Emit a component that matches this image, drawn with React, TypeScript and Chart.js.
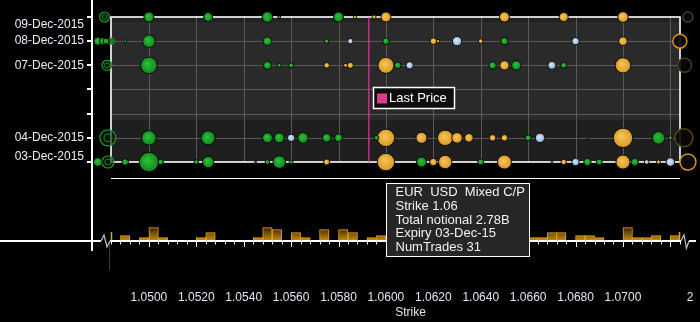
import React, { useEffect, useRef } from 'react';
import { Chart, registerables } from 'chart.js';

Chart.register(...registerables);

const FONT = "'Liberation Sans', Arial, sans-serif";

// ---- y axis: expiry dates (day of December 2015) ----
const dayValues = [3, 4, 5, 6, 7, 8, 9];
const dayLabels = ['03-Dec-2015', '04-Dec-2015', '', '', '07-Dec-2015', '08-Dec-2015', '09-Dec-2015'];

// ---- x axis: strikes ----
const strikeTicks = [1.05, 1.052, 1.054, 1.056, 1.058, 1.06, 1.062, 1.064, 1.066, 1.068, 1.07, 1.07283];
const strikeTickLabels = ['1.0500', '1.0520', '1.0540', '1.0560', '1.0580', '1.0600', '1.0620', '1.0640', '1.0660', '1.0680', '1.0700', '2'];
const gridStrikes = [1.05, 1.052, 1.054, 1.056, 1.058, 1.06, 1.062, 1.064, 1.066, 1.068, 1.07, 1.072];
const strikeWindow = [1.0484, 1.0724];
const lastPrice = 1.05928;

// ---- bubbles: [strike, expiry day, size] ----
const greenTrades = [
  [1.05, 9, 5], [1.0525, 9, 4.5], [1.055, 9, 5.3], [1.0555, 9, 1.5], [1.058, 9, 5],
  [1.04785, 8, 4], [1.04806, 8, 3.5], [1.04819, 8, 3], [1.049, 8, 1.5], [1.05, 8, 6.3], [1.055, 8, 4.3], [1.0575, 8, 2.3], [1.06, 8, 3.3], [1.065, 8, 3.7],
  [1.05, 7, 8.3], [1.055, 7, 4], [1.0555, 7, 2], [1.056, 7, 2.5], [1.0605, 7, 3.3], [1.0645, 7, 3.7], [1.0655, 7, 4.7], [1.0675, 7, 3],
  [1.05, 4, 7.3], [1.0525, 4, 7], [1.055, 4, 5], [1.0555, 4, 5], [1.0565, 4, 5.3], [1.0575, 4, 4.3], [1.058, 4, 4], [1.0596, 4, 2.3], [1.066, 4, 3], [1.0685, 4, 1.2], [1.0715, 4, 6.3], [1.072, 4, 2],
  [1.04785, 3, 4.3], [1.049, 3, 3.3], [1.05, 3, 9.7], [1.0505, 3, 2.7], [1.052, 3, 2.3], [1.0525, 3, 5.7], [1.0545, 3, 1], [1.055, 3, 2.3], [1.0555, 3, 6.3], [1.056, 3, 2], [1.0615, 3, 5], [1.064, 3, 3], [1.0685, 3, 3.7], [1.069, 3, 3], [1.0705, 3, 3.7],
];
const orangeTrades = [
  [1.0587, 9, 1.7], [1.0595, 9, 2], [1.06, 9, 5], [1.065, 9, 5], [1.0675, 9, 4.5], [1.07, 9, 5.3],
  [1.062, 8, 3.3], [1.0622, 8, 1.7], [1.064, 8, 2.3], [1.07, 8, 4.3],
  [1.0497, 7, 1.7], [1.0575, 7, 2.8], [1.0583, 7, 2], [1.0585, 7, 3], [1.06, 7, 8], [1.065, 7, 4.7], [1.07, 7, 7.7],
  [1.0581, 4, 1.5], [1.06, 4, 8.7], [1.0615, 4, 5.5], [1.0625, 4, 7.7], [1.063, 4, 5.3], [1.0635, 4, 4.3], [1.0645, 4, 3.3], [1.065, 4, 3.3], [1.07, 4, 9.7],
  [1.0575, 3, 3], [1.06, 3, 8.7], [1.062, 3, 3.7], [1.0625, 3, 6.7], [1.065, 3, 7], [1.0675, 3, 2.7], [1.07, 3, 7], [1.0715, 3, 2],
];
const blueTrades = [
  [1.0585, 8, 2.7], [1.063, 8, 4.7], [1.068, 8, 3.7],
  [1.061, 7, 3.7], [1.067, 7, 4],
  [1.056, 4, 3.7], [1.0665, 4, 4.7],
  [1.067, 3, 1], [1.068, 3, 3.7], [1.071, 3, 2.3], [1.072, 3, 4.3],
];
const leftEdgeRings = [[1.04813, 9, 5], [1.04841, 8, 3], [1.04823, 7, 5], [1.04827, 4, 8], [1.04827, 3, 6]];
const rightEdgeRings = [[1.07274, 9, 5], [1.0724, 8, 7], [1.0726, 7, 7], [1.07257, 4, 9], [1.07274, 3, 8]];

// ---- histogram of notional by strike bin ----
const histBinWidth = 0.0004;
const histStrikes = [1.049, 1.0498, 1.0502, 1.0506, 1.0522, 1.0526, 1.0546, 1.055, 1.0554, 1.0562, 1.0566, 1.0574, 1.0582, 1.0586, 1.0594, 1.0598,
  1.0662, 1.0666, 1.067, 1.0674, 1.0682, 1.0686, 1.069, 1.0702, 1.0706, 1.071, 1.0714, 1.0722];
const histNotional = [5.4, 3.4, 13.4, 3.4, 3.4, 8.4, 3.4, 13.4, 11.4, 8.4, 3.4, 11.4, 11.4, 8.4, 3.4, 5.4,
  3.4, 3.4, 8.4, 8.4, 5.4, 5.4, 3.4, 13.4, 3.4, 3.4, 5.4, 5.4];
const histTop = 63;

// ---- tooltip ----
const tooltipStrike = 1.06;
const tooltipDay = 3;
const tooltipLines = ['EUR  USD  Mixed C/P', 'Strike 1.06', 'Total notional 2.78B', 'Expiry 03-Dec-15', 'NumTrades 31'];

const toPts = (arr: number[][]) => arr.map(([x, y, r]) => ({ x, y, r }));

function radialFill(light: string, dark: string) {
  return (ctx: any) => {
    const chart = ctx.chart;
    const raw = ctx.raw;
    const xs = chart.scales && chart.scales.x;
    const ys = chart.scales && chart.scales.y;
    if (!raw || !xs || !ys || !chart.chartArea) return dark;
    const px = xs.getPixelForValue(raw.x);
    const py = ys.getPixelForValue(raw.y);
    const r = Math.max(raw.r, 0.5);
    const g = chart.ctx.createRadialGradient(px - r * 0.2, py - r * 0.2, r * 0.05, px, py, r);
    g.addColorStop(0, light);
    g.addColorStop(1, dark);
    return g;
  };
}

const barFill = (ctx: any) => {
  const chart = ctx.chart;
  const yh = chart.scales && chart.scales.yh;
  if (!yh || !chart.chartArea) return '#a8740c';
  const y0 = yh.getPixelForValue(0);
  const y1 = yh.getPixelForValue(14);
  const g = chart.ctx.createLinearGradient(0, y1, 0, y0);
  g.addColorStop(0, '#2c2006');
  g.addColorStop(1, '#c98c12');
  return g;
};

const decor = {
  id: 'decor',
  beforeDraw(chart: any) {
    const c = chart.ctx;
    c.save();
    c.fillStyle = '#000';
    c.fillRect(0, 0, chart.width, chart.height);
    c.restore();
  },
  beforeDatasetsDraw(chart: any) {
    const c = chart.ctx;
    const { x, y, yh } = chart.scales;
    const L = Math.round(x.getPixelForValue(strikeWindow[0]));
    const R = Math.round(x.getPixelForValue(strikeWindow[1]));
    const T = Math.round(y.getPixelForValue(dayValues[dayValues.length - 1]));
    const B = Math.round(y.getPixelForValue(dayValues[0]));
    const yA = Math.round(y.getPixelForValue(8.8));
    const yB = Math.round(y.getPixelForValue(4.75));
    c.save();
    c.fillStyle = '#222222';
    c.fillRect(L, T, R - L, yA - T);
    c.fillStyle = '#2a2a2a';
    c.fillRect(L, yA, R - L, yB - yA);
    c.fillStyle = '#1f1f1f';
    c.fillRect(L, yB, R - L, B - yB);
    c.strokeStyle = '#5a5a5a';
    c.lineWidth = 1;
    c.beginPath();
    gridStrikes.forEach((s) => {
      const px = Math.round(x.getPixelForValue(s)) + 0.5;
      c.moveTo(px, T);
      c.lineTo(px, B);
    });
    dayValues.slice(1, -1).forEach((d) => {
      const py = Math.round(y.getPixelForValue(d)) + 0.5;
      c.moveTo(L, py);
      c.lineTo(R, py);
    });
    c.stroke();
    c.strokeStyle = '#ffffff';
    c.lineWidth = 1.6;
    c.strokeRect(L, T, R - L, B - T);
    const ySep = Math.round(yh.getPixelForValue(histTop)) + 0.5;
    c.lineWidth = 1.2;
    c.beginPath();
    c.moveTo(L, ySep);
    c.lineTo(R, ySep);
    c.stroke();
    // y axis date labels (kept inside the plotted date range)
    c.fillStyle = '#e8eef6';
    c.font = `12px ${FONT}`;
    c.textAlign = 'right';
    c.textBaseline = 'middle';
    dayValues.forEach((d, i) => {
      const lab = dayLabels[i];
      if (!lab) return;
      const py = Math.min(Math.max(y.getPixelForValue(d), T + 8), B - 5);
      c.fillText(lab, y.right - 8, py);
    });
    c.restore();
  },
  afterDatasetsDraw(chart: any) {
    const c = chart.ctx;
    const { x, y, yh } = chart.scales;
    const L = Math.round(x.getPixelForValue(strikeWindow[0]));
    const R = Math.round(x.getPixelForValue(strikeWindow[1]));
    const y0 = Math.round(yh.getPixelForValue(0));
    c.save();
    c.strokeStyle = '#3a3a3a';
    c.lineWidth = 1;
    c.beginPath();
    c.moveTo(L - 1.5, y0);
    c.lineTo(L - 1.5, y0 + 29);
    c.stroke();
    c.strokeStyle = '#e8a010';
    c.lineWidth = 1.5;
    c.beginPath();
    c.moveTo(L + 0.5, y0 - 9);
    c.lineTo(L + 0.5, y0);
    c.moveTo(R - 0.5, y0 - 9);
    c.lineTo(R - 0.5, y0);
    c.stroke();
    c.strokeStyle = '#ffffff';
    c.lineWidth = 2;
    c.beginPath();
    c.moveTo(0, y0);
    c.lineTo(L - 10, y0);
    c.moveTo(L - 1, y0);
    c.lineTo(R + 1, y0);
    c.moveTo(R + 9, y0);
    c.lineTo(R + 16, y0);
    c.stroke();
    c.strokeStyle = '#b8b8b8';
    c.lineWidth = 1.3;
    c.beginPath();
    c.moveTo(L - 10, y0);
    c.lineTo(L - 7, y0 - 6);
    c.lineTo(L - 4, y0 + 6);
    c.lineTo(L - 1, y0);
    c.moveTo(R + 1, y0);
    c.lineTo(R + 4, y0 - 6);
    c.lineTo(R + 6.5, y0 + 7);
    c.lineTo(R + 9, y0);
    c.stroke();
    c.strokeStyle = '#ffffff';
    c.lineWidth = 1;
    c.beginPath();
    for (let k = 0; ; k++) {
      const s = strikeWindow[0] + k * histBinWidth;
      if (s > strikeWindow[1] + 1e-9) break;
      const q = s / 0.002;
      const major = Math.abs(q - Math.round(q)) < 1e-4;
      const px = Math.round(x.getPixelForValue(s)) + 0.5;
      c.moveTo(px, y0 + 1);
      c.lineTo(px, y0 + (major ? 6 : 3.5));
    }
    c.stroke();
    // legend
    const ds = chart.data.datasets.find((d: any) => d.label === 'Last Price');
    const lx = 373, ly = 87, lw = 81, lh = 21;
    c.fillStyle = '#0e0e0e';
    c.fillRect(lx, ly, lw, lh);
    c.strokeStyle = '#ffffff';
    c.lineWidth = 1.5;
    c.strokeRect(lx + 0.5, ly + 0.5, lw, lh);
    c.fillStyle = ds ? ds.borderColor : '#d4408f';
    c.fillRect(lx + 4, ly + 6.5, 10, 10);
    c.fillStyle = '#ffffff';
    c.font = `13px ${FONT}`;
    c.textAlign = 'left';
    c.textBaseline = 'middle';
    c.fillText(ds ? ds.label : 'Last Price', lx + 16, ly + 11);
    // x axis title
    c.fillStyle = '#dfe6ef';
    c.font = `12px ${FONT}`;
    c.textAlign = 'center';
    c.fillText('Strike', (L + R) / 2 + 15, 313);
    // tooltip
    const tx = Math.round(x.getPixelForValue(tooltipStrike));
    const ty = Math.round(y.getPixelForValue(tooltipDay)) + 21;
    const tw = 144, th = 74;
    c.fillStyle = '#262626';
    c.fillRect(tx, ty, tw, th);
    c.strokeStyle = '#ffffff';
    c.lineWidth = 1;
    c.strokeRect(tx + 0.5, ty + 0.5, tw - 1, th - 1);
    c.fillStyle = '#f2f2f2';
    c.font = `13px ${FONT}`;
    c.textAlign = 'left';
    c.textBaseline = 'middle';
    tooltipLines.forEach((t, i) => c.fillText(t, tx + 9.5, ty + 9.5 + i * 13.8));
    c.restore();
  },
};

export default function App() {
  const ref = useRef<HTMLCanvasElement>(null);
  useEffect(() => {
    const canvas = ref.current;
    if (!canvas) return;
    const bubbleBorder = 'rgba(0,0,0,0.85)';
    const config: any = {
      type: 'bar',
      data: {
        datasets: [
          { type: 'bubble', label: 'Calls', data: toPts(greenTrades), backgroundColor: radialFill('#2fbf3c', '#0f8a1c'), borderColor: bubbleBorder, borderWidth: 1, xAxisID: 'x', yAxisID: 'y', order: 1 },
          { type: 'bubble', label: 'Puts', data: toPts(orangeTrades), backgroundColor: radialFill('#f7c55a', '#d99a22'), borderColor: bubbleBorder, borderWidth: 1, xAxisID: 'x', yAxisID: 'y', order: 1 },
          { type: 'bubble', label: 'Mixed', data: toPts(blueTrades), backgroundColor: radialFill('#dbe9f8', '#8fb0d6'), borderColor: bubbleBorder, borderWidth: 1, xAxisID: 'x', yAxisID: 'y', order: 1 },
          { type: 'bubble', label: 'Below range', data: toPts(leftEdgeRings), backgroundColor: 'rgba(0,25,0,0.6)', borderColor: '#1d9a2a', borderWidth: 1.2, xAxisID: 'x', yAxisID: 'y', order: 3 },
          { type: 'bubble', label: 'Below range inner', data: toPts(leftEdgeRings).map((p) => ({ ...p, r: p.r * 0.5 })), backgroundColor: 'rgba(0,0,0,0)', borderColor: '#178a22', borderWidth: 1, xAxisID: 'x', yAxisID: 'y', order: 2 },
          { type: 'bubble', label: 'Above range', data: toPts(rightEdgeRings), backgroundColor: 'rgba(8,8,8,0.9)', borderColor: ['#4a4020', '#d8961a', '#4a3a18', '#5a4418', '#d8961a'], borderWidth: 1.5, xAxisID: 'x', yAxisID: 'y', order: 3 },
          { type: 'line', label: 'Last Price', data: [{ x: lastPrice, y: dayValues[0] }, { x: lastPrice, y: dayValues[dayValues.length - 1] }], borderColor: '#d4408f', borderWidth: 1.2, pointRadius: 0, xAxisID: 'x', yAxisID: 'y', order: 10 },
          { type: 'bar', label: 'Notional', data: histStrikes.map((s, i) => ({ x: s, y: histNotional[i] })), backgroundColor: barFill, borderColor: '#eda412', borderWidth: 1, borderSkipped: 'start', barPercentage: 1, categoryPercentage: 1, xAxisID: 'x', yAxisID: 'yh', order: 4 },
        ],
      },
      options: {
        responsive: false,
        animation: false,
        devicePixelRatio: 1,
        events: [],
        layout: { padding: 0, autoPadding: false },
        plugins: { legend: { display: false }, tooltip: { enabled: false } },
        scales: {
          x: {
            type: 'linear', position: 'bottom', min: 1.0476, max: 1.07325, offset: false,
            afterBuildTicks: (s: any) => { s.ticks = strikeTicks.map((v) => ({ value: v })); },
            afterFit: (s: any) => { s.height = 72; },
            grid: { display: false, drawTicks: true, tickLength: 36 },
            border: { display: false },
            ticks: {
              autoSkip: false, maxRotation: 0, minRotation: 0, padding: 4, color: '#dfe6ef',
              font: { family: FONT, size: 12 },
              callback: (_v: any, i: number) => strikeTickLabels[i] ?? '',
            },
          },
          y: {
            type: 'linear', position: 'left', min: -0.6414, max: 9.7034,
            afterBuildTicks: (s: any) => { s.ticks = dayValues.map((v) => ({ value: v })); },
            afterFit: (s: any) => { s.width = 92; },
            grid: { display: true, drawOnChartArea: false, drawTicks: true, tickLength: 5, color: '#ffffff', lineWidth: 2 },
            border: { display: true, color: '#ffffff', width: 2 },
            ticks: { display: false },
          },
          yh: { type: 'linear', display: false, min: -9, max: 241 },
        },
      },
      plugins: [decor],
    };
    const chart = new Chart(canvas, config);
    return () => chart.destroy();
  }, []);
  return (
    <div style={{ position: 'fixed', left: 0, top: 0, width: 700, height: 322, background: '#000' }}>
      <canvas ref={ref} width={700} height={322} style={{ display: 'block', width: 700, height: 322 }} />
    </div>
  );
}
